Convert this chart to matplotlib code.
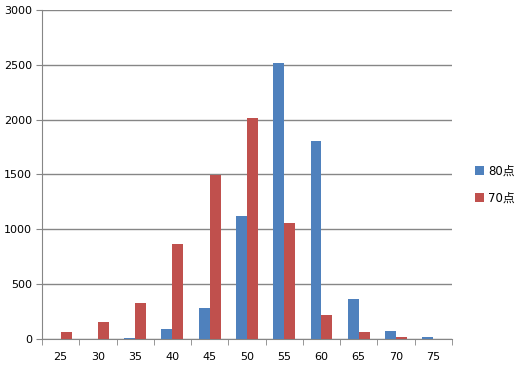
import numpy as np
import matplotlib.pyplot as plt

plt.rcParams['font.family'] = ['DejaVu Sans', 'Noto Sans CJK JP']

categories = ['25', '30', '35', '40', '45', '50', '55', '60', '65', '70', '75']
series_80 = [0, 0, 12, 94, 285, 1124, 2512, 1808, 367, 76, 21]
series_70 = [60, 158, 331, 869, 1495, 2017, 1060, 215, 60, 15, 0]
labels = ['80点', '70点']
colors = ['#4F81BD', '#C0504D']

fig = plt.figure(figsize=(5.2, 3.69), dpi=100)
ax = fig.add_axes([0.0808, 0.0813, 0.7882, 0.8917])

x = np.arange(len(categories))
w = 1 / 3.4
b1 = ax.bar(x - w / 2, series_80, w, color=colors[0], label=labels[0], zorder=3)
b2 = ax.bar(x + w / 2, series_70, w, color=colors[1], label=labels[1], zorder=3)

ax.set_xlim(-0.5, len(categories) - 0.5)
ax.set_ylim(0, 3000)
ax.set_yticks(np.arange(0, 3001, 500))
ax.yaxis.grid(True, color='#868686', linewidth=1, zorder=0)

ax.set_xticks(x)
ax.set_xticklabels(categories)
ax.set_xticks(np.arange(-0.5, len(categories), 1), minor=True)
ax.tick_params(axis='x', which='major', length=0, pad=9, labelsize=8)
ax.tick_params(axis='x', which='minor', length=4, color='#868686', direction='out')
ax.tick_params(axis='y', length=4, color='#868686', labelsize=8, pad=3)

for s in ['top', 'right']:
    ax.spines[s].set_visible(False)
for s in ['left', 'bottom']:
    ax.spines[s].set_color('#868686')

leg = fig.legend(handles=[b1, b2], labels=labels, loc='center left',
                 bbox_to_anchor=(0.893, 0.5), frameon=False,
                 handlelength=0.8, handleheight=0.8, handletextpad=0.3,
                 labelspacing=1.2,
                 prop={'family': ['DejaVu Sans', 'Noto Sans CJK JP'], 'size': 8.5})

fig.savefig('out.png', dpi=100)
